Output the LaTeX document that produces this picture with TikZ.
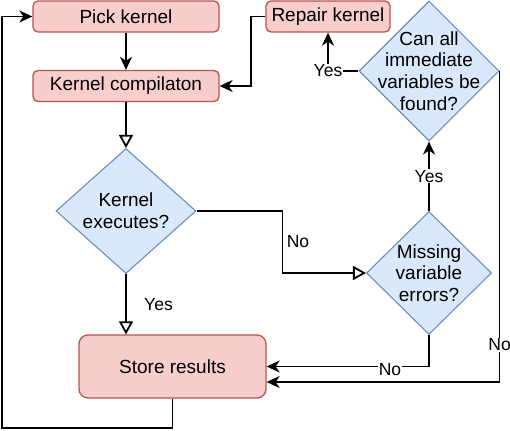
\documentclass[tikz,border=0pt]{standalone}
\usepackage{fontspec}
\setmainfont{Liberation Sans}
\usetikzlibrary{arrows.meta,positioning,shapes.geometric}
\definecolor{redfill}{HTML}{F8CECC}
\definecolor{redline}{HTML}{B85450}
\definecolor{bluefill}{HTML}{DAE8FC}
\definecolor{blueline}{HTML}{6C8EBF}
\newcommand{\nodefont}{\fontsize{19}{21.6}\selectfont}
\newcommand{\lblfont}{\fontsize{17.5}{19}\selectfont}

\begin{document}
\begin{tikzpicture}[
  x=1pt,y=-1pt,
  box/.style={draw=redline,fill=redfill,line width=1.3pt,rounded corners=5pt,inner sep=0pt,font=\nodefont},
  dec/.style={diamond,draw=blueline,fill=bluefill,line width=1.1pt,inner sep=0pt},
  dtxt/.style={align=center,font=\nodefont},
  lbl/.style={font=\lblfont,fill=white,inner sep=1pt},
  arr/.style={-{Stealth[length=13pt,width=12pt,inset=4pt]},line width=1.8pt},
  hollow/.style={-{Triangle[open,length=13pt,width=14pt]},line width=1.8pt},
]
  \useasboundingbox (0,0) rectangle (510,430);

  % process boxes
  \node[box,minimum width=186pt,minimum height=31pt] (pick) at (126,16.5) {Pick kernel};
  \node[box,minimum width=186pt,minimum height=31pt] (comp) at (126,86) {Kernel compilaton};
  \node[box,minimum width=124pt,minimum height=31pt] (repair) at (328,16.5) {Repair kernel};
  \node[box,minimum width=187pt,minimum height=63pt,rounded corners=9pt] (store) at (172.5,366.5) {Store results};

  % decisions
  \node[dec,minimum width=140pt,minimum height=125pt,
    label={[dtxt]center:Kernel\\executes?}] (exec) at (126,211) {};
  \node[dec,minimum width=125pt,minimum height=123pt,
    label={[dtxt]center:Missing\\variable\\errors?}] (miss) at (429,273) {};
  \node[dec,minimum width=140pt,minimum height=140pt,
    label={[dtxt]center:Can all\\immediate\\variables be\\found?}] (found) at (429,71) {};

  \coordinate (back) at (2,428);

  % connectors
  \draw[arr] (pick) -- (comp);
  \draw[hollow] (comp) -- (exec);
  \draw[arr] (repair.west) -- ++(-14,0) |- (comp.east);
  \draw[arr] (found.west) -- (found.west -| repair.south) node[lbl] {Yes} -- (repair.south);
  \draw[arr] (miss) -- node[lbl] {Yes} (found);
  \draw[hollow] (exec.east) -- ++(86,0) |- node[pos=0.25,right,font=\lblfont] {No} (miss.west);
  \draw[hollow] (exec.south) -- node[right=14pt,font=\lblfont] {Yes} (exec.south |- store.north);
  \draw[arr] (miss.south) |- node[lbl,pos=0.62,yshift=-3pt] {No} (store.east);
  \draw[arr] (found.east) |- node[lbl,pos=0.44] {No} ([yshift=-15.5pt]store.east);
  \draw[arr] (store.south) |- (back) |- (pick.west);
\end{tikzpicture}
\end{document}
